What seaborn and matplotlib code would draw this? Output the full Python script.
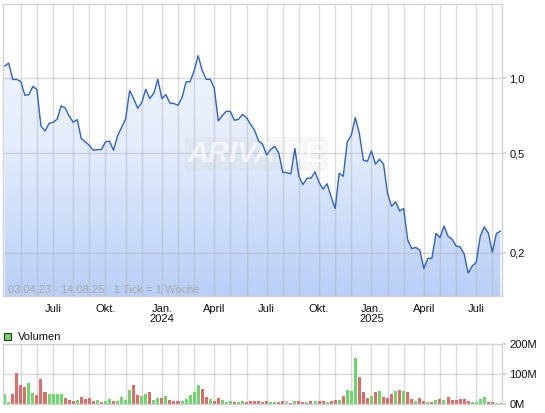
# Kurschart mit Volumen (ARIVA-Stil), Wochenwerte 03.04.23 - 14.08.25

import numpy as np
import pandas as pd
import seaborn as sns
import matplotlib.pyplot as plt
from matplotlib.colors import LinearSegmentedColormap
from matplotlib.patches import Rectangle

# Wochenkurse (Schlusskurs, EUR)
weeks = pd.date_range('2023-04-03', periods=124, freq='W-MON')
price = [
    1.12, 1.15, 0.99, 0.99, 0.97, 0.855, 0.86, 0.929, 0.901, 0.644,
    0.615, 0.659, 0.667, 0.685, 0.775, 0.761, 0.705, 0.667, 0.683, 0.574,
    0.556, 0.539, 0.515, 0.518, 0.518, 0.556, 0.56, 0.515, 0.588, 0.635,
    0.687, 0.893, 0.829, 0.758, 0.799, 0.904, 0.829, 0.873, 0.991, 0.829,
    0.86, 0.796, 0.792, 0.78, 0.837, 0.966, 0.97, 1.07, 1.233, 1.077,
    0.991, 0.991, 0.914, 0.675, 0.709, 0.738, 0.736, 0.679, 0.685, 0.716,
    0.696, 0.654, 0.619, 0.561, 0.544, 0.492, 0.518, 0.534, 0.502, 0.42,
    0.419, 0.414, 0.523, 0.405, 0.375, 0.398, 0.398, 0.422, 0.383, 0.36,
    0.378, 0.335, 0.301, 0.416, 0.405, 0.556, 0.591, 0.696, 0.601, 0.47,
    0.465, 0.512, 0.453, 0.474, 0.453, 0.346, 0.307, 0.32, 0.294, 0.301,
    0.225, 0.208, 0.21, 0.205, 0.173, 0.19, 0.19, 0.239, 0.23, 0.256,
    0.233, 0.227, 0.213, 0.211, 0.198, 0.166, 0.177, 0.183, 0.233, 0.254,
    0.24, 0.201, 0.239, 0.244,
]

# Wochenvolumen in Mio.
volume_m = [
    33, 6, 33, 103, 63, 56, 70, 36, 29, 83,
    39, 33, 33, 33, 33, 19, 12, 9, 12, 23,
    16, 19, 9, 12, 6, 9, 16, 9, 9, 23,
    12, 46, 63, 29, 26, 33, 39, 12, 19, 19,
    26, 12, 9, 9, 9, 16, 29, 39, 63, 49,
    23, 16, 9, 19, 12, 6, 9, 6, 6, 9,
    6, 9, 9, 9, 6, 9, 6, 6, 6, 9,
    9, 2, 9, 9, 6, 6, 9, 9, 9, 9,
    6, 9, 12, 12, 26, 46, 42, 154, 90, 39,
    19, 26, 39, 42, 23, 19, 33, 42, 46, 42,
    39, 16, 9, 19, 9, 6, 6, 12, 16, 12,
    23, 12, 12, 16, 16, 9, 6, 6, 16, 23,
    6, 6, 2, 2,
]

# g = steigend, r = fallend, n = unveraendert
direction = list(
    'ggrrrrggrrrggggrrrgrrrrgrggrgggg'
    'rrggrggrgrrrgggggrrgrrgggrggrrrr'
    'rrggrrnrgrrgrgrrgrrgrgggrrrgrgrr'
    'rgrgrrgrrgrgrgrrrrrrggggrrgg'
)

month_labels = {7: 'Juli', 10: 'Okt.', 1: 'Jan.', 4: 'April'}

df = pd.DataFrame({
    'week': np.arange(len(weeks)),
    'date': weeks,
    'price': price,
    'volume': np.array(volume_m) * 1e6,
    'dir': direction,
})

# Gitterlinien: Woche, in die der Monatserste faellt
months = pd.date_range('2023-05-01', '2025-08-01', freq='MS')
grid_dates = months - pd.to_timedelta(months.weekday, unit='D')
grid_idx = ((grid_dates - weeks[0]).days // 7).to_numpy()
grid_lbl = []
for m in months:
    lbl = month_labels.get(m.month, '')
    if m.month == 1:
        lbl += '\n' + str(m.year)
    grid_lbl.append(lbl)

sns.set_theme(style='white')
plt.rcParams['font.family'] = ['Liberation Sans', 'DejaVu Sans']

W, H = 545, 413
fig = plt.figure(figsize=(W / 100, H / 100), dpi=100)
ax = fig.add_axes([3 / W, 1 - 296 / H, 499.5 / W, 292.5 / H])
axv = fig.add_axes([3 / W, 1 - 403.7 / H, 499.5 / W, 59.4 / H])

grid_kw = dict(color='#b0b0b0', alpha=0.45, lw=1)
spine_col = '#d2d2d2'
ymin, ymax = 0.1342, 1.994
xmin, xmax = -0.42, 123.52

# --- Kurs ---
sns.lineplot(data=df, x='week', y='price', ax=ax, color='#2e62c6', lw=1.0, zorder=3)
ax.set_yscale('log')

fill = ax.fill_between(df['week'], df['price'], ymin, color='none', lw=0)
cmap = LinearSegmentedColormap.from_list('grad', ['#f7faff', '#e2ecfc', '#b8cff7'])
grad = np.linspace(0, 1, 256).reshape(-1, 1)
im = ax.imshow(grad, extent=[0, 1, 0, 1], transform=ax.transAxes,
               aspect='auto', cmap=cmap, origin='upper', zorder=0.2)
im.set_clip_path(fill.get_paths()[0], transform=ax.transData)

ax.set_xlim(xmin, xmax)
ax.set_ylim(ymin, ymax)
ax.minorticks_off()
ax.set_yticks([0.2, 0.5, 1.0])
ax.set_yticklabels(['0,2', '0,5', '1,0'])
ax.yaxis.tick_right()
ax.set_xticks(grid_idx)
ax.set_xticklabels(grid_lbl, linespacing=0.95)
ax.tick_params(axis='both', length=3, color=spine_col, labelsize=8,
               pad=2, colors='#111111')
ax.tick_params(axis='x', pad=3)
ax.grid(True, **grid_kw)
ax.set_axisbelow(True)
ax.set_xlabel('')
ax.set_ylabel('')
for s in ax.spines.values():
    s.set_color(spine_col)
    s.set_linewidth(1)

ax.text(0.0106, 0.02, '03.04.23 - 14.08.25   1 Tick = 1 Woche',
        transform=ax.transAxes, fontsize=8, color='#a9a9a9', va='center')
ax.text(0.507, 0.485, 'ARIVA.DE', transform=ax.transAxes, fontsize=21,
        fontweight='bold', style='italic', color='white', alpha=0.6,
        ha='center', va='center', zorder=1.5,
        bbox=dict(boxstyle='round,pad=0.1', fc='#d6d6d6', ec='none', alpha=0.22))

# --- Volumen ---
sns.barplot(data=df, x='week', y='volume', hue='dir', ax=axv,
            palette={'g': '#6ad86a', 'r': '#df6b6b', 'n': '#c4c4c4'},
            dodge=False, legend=False, width=0.75, saturation=1, errorbar=None,
            edgecolor='none', linewidth=0)
axv.set_xlim(xmin, xmax)
axv.set_ylim(0, 200e6)
axv.set_yticks([0, 100e6, 200e6])
axv.set_yticklabels(['0M', '100M', '200M'])
axv.yaxis.tick_right()
axv.set_xticks(grid_idx)
axv.set_xticklabels([])
axv.tick_params(axis='y', length=3, color=spine_col, labelsize=8, pad=2,
                colors='#111111')
axv.tick_params(axis='x', length=0)
axv.grid(True, **grid_kw)
axv.set_axisbelow(True)
axv.set_xlabel('')
axv.set_ylabel('')
for s in axv.spines.values():
    s.set_color(spine_col)
    s.set_linewidth(1)

# Legende Volumen
fig.patches.append(Rectangle((4 / W, 1 - 340 / H), 7 / W, 7 / H,
                             transform=fig.transFigure, fc='#6ad86a',
                             ec='#333333', lw=0.8))
fig.text(18 / W, 1 - 336.5 / H, 'Volumen', fontsize=8, color='#111111', va='center')

fig.savefig('out.png', dpi=100)
